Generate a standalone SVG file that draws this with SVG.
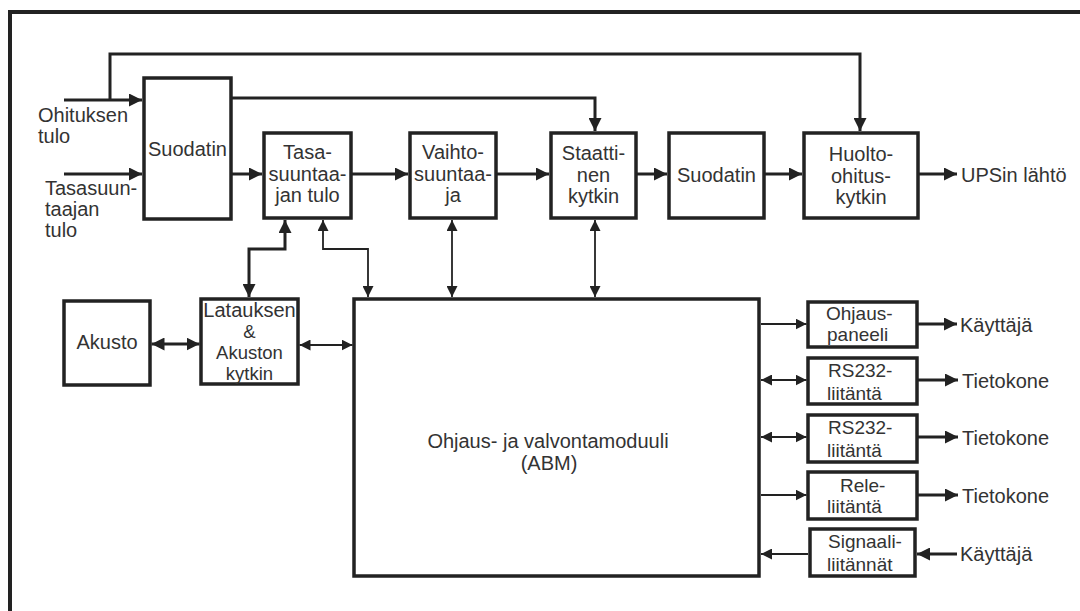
<svg xmlns="http://www.w3.org/2000/svg" width="1080" height="611" viewBox="0 0 1080 611">
  <style>
    .bg { fill: #ffffff; }
    .frame { fill: none; stroke: #222; stroke-width: 4; }
    .box { fill: #ffffff; stroke: #222; stroke-width: 3.5; }
    .thick { fill: none; stroke: #222; stroke-width: 3; }
    .thin { fill: none; stroke: #222; stroke-width: 1.8; }
    text { font-family: "Liberation Sans", Arial, sans-serif; font-size: 20px; fill: #333; }
    .c { text-anchor: middle; }
    .sm { font-size: 19px; }
    .tight { font-size: 18.5px; }
  </style>
  <defs>
    <marker id="ah" markerUnits="userSpaceOnUse" markerWidth="13" markerHeight="13" refX="13" refY="6.5" orient="auto-start-reverse">
      <path d="M0,0 L13,6.5 L0,13 z" fill="#222"/>
    </marker>
    <marker id="as" markerUnits="userSpaceOnUse" markerWidth="11" markerHeight="11" refX="11" refY="5.5" orient="auto-start-reverse">
      <path d="M0,0 L11,5.5 L0,11 z" fill="#222"/>
    </marker>
  </defs>

  <rect class="bg" x="0" y="0" width="1080" height="611"/>
  <!-- outer frame (top and left edges) -->
  <path class="frame" d="M10,611 V12 H1080"/>

  <g id="connectors">
    <!-- inputs and bypass paths -->
    <path class="thick" d="M64,100 H142" marker-end="url(#ah)"/>
    <path class="thick" d="M110,100 V54 H860 V131" marker-end="url(#ah)"/>
    <path class="thick" d="M64,174 H142" marker-end="url(#ah)"/>
    <path class="thick" d="M231,98 H595 V131" marker-end="url(#ah)"/>
    <!-- main power path -->
    <path class="thick" d="M231,174 H262" marker-end="url(#ah)"/>
    <path class="thick" d="M351,174 H408" marker-end="url(#ah)"/>
    <path class="thick" d="M496,174 H549" marker-end="url(#ah)"/>
    <path class="thick" d="M636,174 H667" marker-end="url(#ah)"/>
    <path class="thick" d="M764,174 H802" marker-end="url(#ah)"/>
    <path class="thick" d="M918,174 H957" marker-end="url(#ah)"/>
    <!-- links to charger and control module -->
    <path class="thick" d="M285,220 V249 H249 V297" marker-start="url(#ah)" marker-end="url(#ah)"/>
    <path class="thin" d="M323,220 V249 H368 V297" marker-start="url(#as)" marker-end="url(#as)"/>
    <path class="thin" d="M452,220 V297" marker-start="url(#as)" marker-end="url(#as)"/>
    <path class="thin" d="M595,220 V297" marker-start="url(#as)" marker-end="url(#as)"/>
    <path class="thick" d="M151.5,344 H199.5" marker-start="url(#ah)" marker-end="url(#ah)"/>
    <path class="thin" d="M299.5,345 H352.5" marker-start="url(#as)" marker-end="url(#as)"/>
    <!-- control module interfaces -->
    <path class="thin" d="M761,324 H806.5" marker-end="url(#as)"/>
    <path class="thick" d="M918,324 H957" marker-end="url(#ah)"/>
    <path class="thin" d="M761,380 H806.5" marker-start="url(#as)" marker-end="url(#as)"/>
    <path class="thick" d="M918,380 H958" marker-end="url(#ah)"/>
    <path class="thin" d="M761,437 H806.5" marker-start="url(#as)" marker-end="url(#as)"/>
    <path class="thick" d="M918,437 H958" marker-end="url(#ah)"/>
    <path class="thin" d="M761,495 H806.5" marker-end="url(#as)"/>
    <path class="thick" d="M918,495 H958" marker-end="url(#ah)"/>
    <path class="thin" d="M808,554 H761" marker-end="url(#as)"/>
    <path class="thick" d="M957,554 H917" marker-end="url(#ah)"/>
  </g>

  <g id="labels-io">
    <text x="38" y="122">Ohituksen</text>
    <text x="38" y="143">tulo</text>
    <text x="45" y="195">Tasasuun-</text>
    <text x="45" y="216">taajan</text>
    <text x="45" y="237">tulo</text>
    <text x="961" y="182">UPSin lähtö</text>
    <text x="960" y="332">Käyttäjä</text>
    <text x="962" y="388">Tietokone</text>
    <text x="962" y="445">Tietokone</text>
    <text x="962" y="503">Tietokone</text>
    <text x="960" y="561">Käyttäjä</text>
  </g>

  <g id="suodatin-in">
    <rect class="box" x="144" y="78" width="87" height="141"/>
    <text class="c" x="187.5" y="156">Suodatin</text>
  </g>
  <g id="tasasuuntaaja">
    <rect class="box" x="264" y="133" width="87" height="85"/>
    <text class="c" x="307.5" y="159">Tasa-</text>
    <text class="c" x="307.5" y="181">suuntaa-</text>
    <text class="c" x="307.5" y="202">jan tulo</text>
  </g>
  <g id="vaihtosuuntaaja">
    <rect class="box" x="410" y="133" width="86" height="85"/>
    <text class="c" x="453" y="159">Vaihto-</text>
    <text class="c" x="453" y="181">suuntaa-</text>
    <text class="c" x="453" y="202">ja</text>
  </g>
  <g id="staattinen-kytkin">
    <rect class="box" x="551" y="133" width="85" height="85"/>
    <text class="c" x="593.5" y="160">Staatti-</text>
    <text class="c" x="593.5" y="182">nen</text>
    <text class="c" x="593.5" y="203">kytkin</text>
  </g>
  <g id="suodatin-out">
    <rect class="box" x="669" y="133" width="95" height="85"/>
    <text class="c" x="716.5" y="182">Suodatin</text>
  </g>
  <g id="huolto-ohitus">
    <rect class="box" x="804" y="133" width="114" height="85"/>
    <text class="c" x="861" y="161">Huolto-</text>
    <text class="c" x="861" y="183">ohitus-</text>
    <text class="c" x="861" y="204">kytkin</text>
  </g>
  <g id="akusto">
    <rect class="box" x="64" y="301" width="86" height="84"/>
    <text class="c" x="107" y="349">Akusto</text>
  </g>
  <g id="latauksen-kytkin">
    <rect class="box" x="201" y="299" width="97" height="85"/>
    <text class="c" x="249.5" y="317">Latauksen</text>
    <text class="c tight" x="249.5" y="338">&amp;</text>
    <text class="c tight" x="249.5" y="359">Akuston</text>
    <text class="c tight" x="249.5" y="380">kytkin</text>
  </g>
  <g id="abm">
    <rect class="box" x="354" y="299" width="405" height="277"/>
    <text class="c" x="548" y="448">Ohjaus- ja valvontamoduuli</text>
    <text class="c" x="549" y="470">(ABM)</text>
  </g>
  <g id="ohjauspaneeli">
    <rect class="box" x="808" y="302" width="109" height="45"/>
    <text class="sm" x="826" y="320">Ohjaus-</text>
    <text class="sm" x="827" y="341">paneeli</text>
  </g>
  <g id="rs232-1">
    <rect class="box" x="808" y="358" width="109" height="46"/>
    <text class="sm" x="828" y="377">RS232-</text>
    <text class="sm" x="827" y="400">liitäntä</text>
  </g>
  <g id="rs232-2">
    <rect class="box" x="808" y="415" width="109" height="47"/>
    <text class="sm" x="828" y="434">RS232-</text>
    <text class="sm" x="827" y="457">liitäntä</text>
  </g>
  <g id="rele">
    <rect class="box" x="808" y="472" width="109" height="47"/>
    <text class="sm" x="840" y="492">Rele-</text>
    <text class="sm" x="827" y="513">liitäntä</text>
  </g>
  <g id="signaali">
    <rect class="box" x="810" y="529" width="105" height="47"/>
    <text class="sm" x="828" y="548">Signaali-</text>
    <text class="sm" x="827" y="571">liitännät</text>
  </g>
</svg>
